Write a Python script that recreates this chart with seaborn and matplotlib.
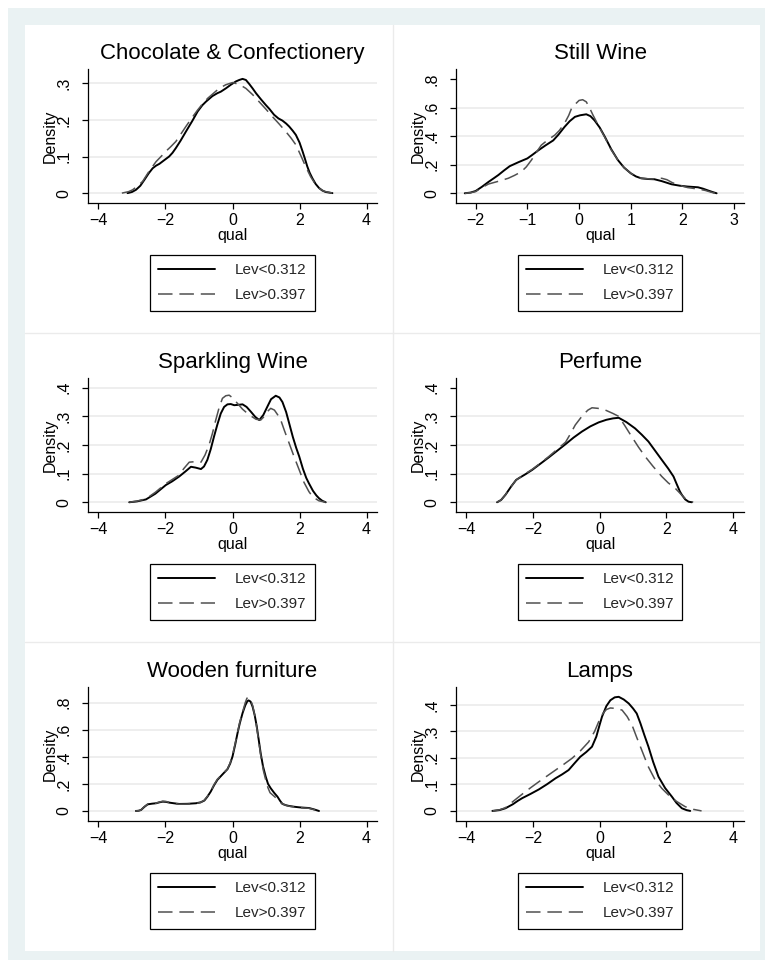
import numpy as np
import pandas as pd
import seaborn as sns
import matplotlib.pyplot as plt
from matplotlib.patches import Rectangle
from matplotlib.lines import Line2D

W, H = 765, 960

titles = ["Chocolate & Confectionery", "Still Wine", "Sparkling Wine",
          "Perfume", "Wooden furniture", "Lamps"]
legend_labels = ["Lev<0.312", "Lev>0.397"]

# density curves (x = qual, y = Density)
choc_lo_x = [-3.13, -3.0, -2.88, -2.75, -2.63, -2.5, -2.38, -2.28, -2.18, -2.05, -1.89, -1.79, -1.69, -1.55,
             -1.39, -1.2, -1.04, -0.9, -0.79, -0.6, -0.45, -0.35, -0.2, -0.05, 0.1, 0.2, 0.3, 0.4, 0.5,
             0.6, 0.7, 0.85, 0.99, 1.1, 1.24, 1.37, 1.49, 1.6, 1.69, 1.8, 1.89, 2.0, 2.09, 2.16, 2.23,
             2.3, 2.38, 2.48, 2.58, 2.68, 2.78, 2.98]
choc_lo_y = [0, 0.003, 0.009, 0.02, 0.036, 0.054, 0.068, 0.075, 0.08, 0.089, 0.1, 0.11, 0.123, 0.143,
             0.168, 0.197, 0.223, 0.24, 0.25, 0.265, 0.273, 0.277, 0.286, 0.296, 0.305, 0.309, 0.312, 0.309, 0.298,
             0.286, 0.273, 0.256, 0.241, 0.23, 0.214, 0.204, 0.198, 0.19, 0.182, 0.17, 0.159, 0.138, 0.114, 0.094, 0.073,
             0.056, 0.041, 0.025, 0.014, 0.007, 0.003, 0]
choc_hi_x = [-3.3, -3.1, -2.98, -2.85, -2.68, -2.5, -2.28, -2.1, -1.99, -1.85, -1.69, -1.55, -1.39, -1.2,
             -1.04, -0.9, -0.74, -0.55, -0.4, -0.2, 0.0, 0.2, 0.4, 0.6, 0.79, 1.0, 1.19, 1.4, 1.59,
             1.75, 1.89, 2.05, 2.18, 2.33, 2.48, 2.6, 2.73, 2.98]
choc_hi_y = [0, 0.004, 0.009, 0.018, 0.032, 0.058, 0.086, 0.103, 0.114, 0.126, 0.141, 0.16, 0.182, 0.207,
             0.227, 0.243, 0.259, 0.274, 0.286, 0.296, 0.302, 0.297, 0.286, 0.269, 0.25, 0.229, 0.209, 0.188, 0.168,
             0.15, 0.132, 0.1, 0.073, 0.045, 0.023, 0.012, 0.005, 0]

still_lo_x = [-2.21, -2.1, -2.0, -1.88, -1.75, -1.65, -1.56, -1.45, -1.34, -1.17, -1.0, -0.9, -0.79, -0.65,
              -0.5, -0.4, -0.28, -0.18, -0.08, 0.02, 0.14, 0.22, 0.3, 0.4, 0.5, 0.62, 0.75, 0.87, 1.0,
              1.1, 1.2, 1.33, 1.46, 1.6, 1.79, 1.95, 2.1, 2.3, 2.4, 2.5, 2.58, 2.66]
still_lo_y = [0, 0.005, 0.016, 0.045, 0.08, 0.105, 0.128, 0.16, 0.19, 0.218, 0.244, 0.27, 0.3, 0.335,
              0.37, 0.41, 0.465, 0.505, 0.535, 0.546, 0.553, 0.54, 0.51, 0.46, 0.395, 0.31, 0.233, 0.18, 0.14,
              0.118, 0.105, 0.1, 0.098, 0.085, 0.063, 0.053, 0.047, 0.042, 0.032, 0.019, 0.009, 0]
still_hi_x = [-2.21, -2.1, -2.0, -1.88, -1.75, -1.55, -1.37, -1.25, -1.12, -1.02, -0.92, -0.82, -0.73, -0.6,
              -0.47, -0.38, -0.28, -0.2, -0.15, -0.07, 0.0, 0.07, 0.14, 0.2, 0.27, 0.38, 0.5, 0.62, 0.75,
              0.87, 1.0, 1.1, 1.2, 1.4, 1.6, 1.7, 1.8, 1.95, 2.1, 2.3, 2.44, 2.55, 2.63]
still_hi_y = [0, 0.004, 0.012, 0.04, 0.065, 0.085, 0.105, 0.125, 0.15, 0.185, 0.233, 0.29, 0.337, 0.375,
              0.407, 0.44, 0.49, 0.545, 0.59, 0.625, 0.65, 0.655, 0.64, 0.6, 0.547, 0.47, 0.39, 0.305, 0.233,
              0.18, 0.14, 0.118, 0.105, 0.1, 0.105, 0.095, 0.075, 0.055, 0.04, 0.03, 0.02, 0.008, 0]

spark_lo_x = [-3.08, -2.85, -2.58, -2.3, -1.99, -1.8, -1.59, -1.4, -1.24, -1.1, -0.94, -0.85, -0.75, -0.65,
              -0.55, -0.45, -0.35, -0.25, -0.15, -0.05, 0.05, 0.15, 0.3, 0.42, 0.55, 0.68, 0.8, 0.92, 1.04,
              1.15, 1.29, 1.4, 1.49, 1.6, 1.69, 1.8, 1.9, 1.99, 2.1, 2.2, 2.28, 2.4, 2.5, 2.58, 2.68, 2.78]
spark_lo_y = [0, 0.003, 0.01, 0.03, 0.06, 0.073, 0.09, 0.108, 0.124, 0.121, 0.116, 0.125, 0.148, 0.185,
              0.23, 0.272, 0.31, 0.333, 0.342, 0.343, 0.339, 0.34, 0.342, 0.333, 0.316, 0.298, 0.287, 0.305, 0.334,
              0.36, 0.372, 0.366, 0.35, 0.315, 0.276, 0.228, 0.19, 0.16, 0.117, 0.085, 0.066, 0.04, 0.024, 0.014, 0.005, 0]
spark_hi_x = [-3.08, -2.85, -2.58, -2.3, -1.99, -1.79, -1.59, -1.45, -1.29, -1.1, -0.94, -0.82, -0.7, -0.6,
              -0.5, -0.4, -0.3, -0.2, -0.1, 0.0, 0.15, 0.3, 0.5, 0.7, 0.84, 0.95, 1.05, 1.14, 1.25,
              1.35, 1.44, 1.55, 1.69, 1.85, 1.99, 2.13, 2.28, 2.4, 2.58, 2.78]
spark_hi_y = [0, 0.004, 0.012, 0.035, 0.065, 0.08, 0.095, 0.118, 0.14, 0.142, 0.14, 0.165, 0.2, 0.24,
              0.287, 0.33, 0.363, 0.372, 0.374, 0.365, 0.345, 0.325, 0.305, 0.29, 0.287, 0.3, 0.318, 0.328, 0.322,
              0.305, 0.287, 0.25, 0.206, 0.155, 0.113, 0.07, 0.037, 0.018, 0.005, 0]

perf_lo_x = [-3.07, -2.95, -2.82, -2.65, -2.5, -2.42, -2.22, -2.02, -1.77, -1.52, -1.27, -1.02, -0.78, -0.53,
             -0.28, -0.03, 0.2, 0.4, 0.57, 0.8, 1.06, 1.26, 1.46, 1.66, 1.86, 2.05, 2.21, 2.3, 2.4,
             2.46, 2.56, 2.66, 2.76]
perf_lo_y = [0, 0.008, 0.026, 0.055, 0.078, 0.084, 0.098, 0.113, 0.135, 0.157, 0.18, 0.203, 0.226, 0.247,
             0.265, 0.279, 0.288, 0.293, 0.295, 0.28, 0.258, 0.236, 0.212, 0.18, 0.148, 0.118, 0.09, 0.065, 0.038,
             0.026, 0.01, 0.002, 0]
perf_hi_x = [-3.07, -2.95, -2.82, -2.65, -2.5, -2.42, -2.22, -2.02, -1.77, -1.52, -1.27, -1.02, -0.88, -0.73,
             -0.5, -0.35, -0.23, -0.05, 0.17, 0.4, 0.57, 0.75, 0.96, 1.16, 1.36, 1.6, 1.86, 2.05, 2.26,
             2.4, 2.55, 2.68, 2.8]
perf_hi_y = [0, 0.008, 0.026, 0.055, 0.078, 0.084, 0.1, 0.115, 0.137, 0.16, 0.185, 0.21, 0.238, 0.27,
             0.305, 0.322, 0.33, 0.328, 0.322, 0.31, 0.3, 0.268, 0.229, 0.193, 0.16, 0.125, 0.09, 0.068, 0.049,
             0.032, 0.014, 0.005, 0]

wood_lo_x = [-2.88, -2.8, -2.73, -2.63, -2.53, -2.4, -2.28, -2.18, -2.08, -1.98, -1.89, -1.75, -1.59, -1.35,
             -1.09, -0.95, -0.84, -0.75, -0.65, -0.55, -0.45, -0.3, -0.15, -0.07, 0.0, 0.08, 0.15, 0.22, 0.3,
             0.38, 0.44, 0.48, 0.54, 0.6, 0.66, 0.72, 0.78, 0.84, 0.91, 0.99, 1.06, 1.14, 1.24, 1.34, 1.42,
             1.49, 1.6, 1.69, 1.85, 1.99, 2.15, 2.28, 2.43, 2.58]
wood_lo_y = [0, 0.002, 0.007, 0.03, 0.049, 0.054, 0.057, 0.064, 0.069, 0.067, 0.062, 0.057, 0.052, 0.053,
             0.057, 0.064, 0.077, 0.105, 0.143, 0.19, 0.23, 0.27, 0.309, 0.35, 0.402, 0.49, 0.575, 0.65, 0.723,
             0.78, 0.81, 0.817, 0.808, 0.77, 0.71, 0.63, 0.53, 0.427, 0.33, 0.254, 0.2, 0.168, 0.135, 0.106, 0.075,
             0.052, 0.042, 0.037, 0.031, 0.027, 0.024, 0.022, 0.012, 0]
wood_hi_x = [-2.88, -2.8, -2.73, -2.63, -2.53, -2.4, -2.28, -2.18, -2.08, -1.98, -1.89, -1.75, -1.59, -1.35,
             -1.09, -0.95, -0.84, -0.75, -0.65, -0.55, -0.45, -0.3, -0.15, -0.07, 0.0, 0.08, 0.15, 0.22, 0.3,
             0.38, 0.43, 0.47, 0.53, 0.6, 0.66, 0.72, 0.78, 0.84, 0.92, 1.0, 1.06, 1.12, 1.19, 1.26, 1.34,
             1.42, 1.49, 1.6, 1.69, 1.85, 1.99, 2.15, 2.28, 2.43, 2.58]
wood_hi_y = [0, 0.002, 0.007, 0.032, 0.05, 0.056, 0.058, 0.066, 0.072, 0.07, 0.064, 0.056, 0.05, 0.051,
             0.055, 0.063, 0.08, 0.108, 0.145, 0.195, 0.235, 0.272, 0.31, 0.355, 0.41, 0.5, 0.58, 0.66, 0.73,
             0.8, 0.833, 0.84, 0.825, 0.78, 0.71, 0.62, 0.52, 0.415, 0.3, 0.22, 0.17, 0.135, 0.12, 0.105, 0.086,
             0.065, 0.052, 0.042, 0.035, 0.03, 0.025, 0.022, 0.02, 0.01, 0]

lamp_lo_x = [-3.21, -3.0, -2.82, -2.6, -2.45, -2.32, -2.07, -1.82, -1.57, -1.32, -1.12, -0.93, -0.75, -0.58,
             -0.4, -0.23, -0.1, 0.0, 0.07, 0.2, 0.32, 0.45, 0.57, 0.72, 0.87, 1.0, 1.11, 1.22, 1.34,
             1.46, 1.6, 1.76, 1.96, 2.16, 2.3, 2.46, 2.6, 2.71]
lamp_lo_y = [0, 0.003, 0.01, 0.025, 0.038, 0.048, 0.064, 0.081, 0.101, 0.123, 0.138, 0.154, 0.18, 0.204,
             0.222, 0.242, 0.28, 0.325, 0.355, 0.395, 0.417, 0.428, 0.43, 0.42, 0.405, 0.386, 0.367, 0.33, 0.285,
             0.242, 0.185, 0.129, 0.086, 0.054, 0.03, 0.01, 0.003, 0]
lamp_hi_x = [-3.2, -3.0, -2.82, -2.6, -2.32, -2.07, -1.82, -1.57, -1.32, -1.07, -0.83, -0.58, -0.33, -0.15,
             0.0, 0.1, 0.2, 0.32, 0.5, 0.67, 0.82, 0.97, 1.1, 1.26, 1.45, 1.66, 1.86, 2.06, 2.3,
             2.56, 2.8, 3.05]
lamp_hi_y = [0, 0.004, 0.012, 0.035, 0.063, 0.087, 0.11, 0.132, 0.154, 0.176, 0.198, 0.226, 0.26, 0.3,
             0.345, 0.368, 0.382, 0.388, 0.386, 0.38, 0.356, 0.323, 0.28, 0.229, 0.168, 0.117, 0.085, 0.06, 0.036,
             0.016, 0.006, 0]

curves = [
    (choc_lo_x, choc_lo_y, choc_hi_x, choc_hi_y),
    (still_lo_x, still_lo_y, still_hi_x, still_hi_y),
    (spark_lo_x, spark_lo_y, spark_hi_x, spark_hi_y),
    (perf_lo_x, perf_lo_y, perf_hi_x, perf_hi_y),
    (wood_lo_x, wood_lo_y, wood_hi_x, wood_hi_y),
    (lamp_lo_x, lamp_lo_y, lamp_hi_x, lamp_hi_y),
]

x_ticks = [[-4, -2, 0, 2, 4], [-2, -1, 0, 1, 2, 3], [-4, -2, 0, 2, 4],
           [-4, -2, 0, 2, 4], [-4, -2, 0, 2, 4], [-4, -2, 0, 2, 4]]
y_ticks = [[0, .1, .2, .3], [0, .2, .4, .6, .8], [0, .1, .2, .3, .4],
           [0, .1, .2, .3, .4], [0, .2, .4, .6, .8], [0, .1, .2, .3, .4]]
x_lims = [(-4.31, 4.31), (-2.38, 3.19), (-4.31, 4.31), (-4.3, 4.32), (-4.31, 4.31), (-4.3, 4.32)]
y_lims = [(-0.027, 0.339), (-0.068, 0.87), (-0.034, 0.434), (-0.034, 0.434), (-0.074, 0.916), (-0.038, 0.467)]
top_grid = [True, False, True, False, True, True]

sns.set_theme(style="white")
plt.rcParams['font.family'] = ['Liberation Sans', 'DejaVu Sans']

fig = plt.figure(figsize=(W / 100, H / 100), dpi=100)
fig.patch.set_facecolor('white')

# stata-like graph region
fig.patches.append(Rectangle((8 / W, 0), 1 - 8 / W, 1 - 8 / H, transform=fig.transFigure,
                             facecolor='#EAF2F3', edgecolor='none', zorder=-3))
fig.patches.append(Rectangle((25 / W, 1 - 951 / H), 735 / W, 926 / H, transform=fig.transFigure,
                             facecolor='white', edgecolor='none', zorder=-2))
sep = '#EBEBEB'
fig.lines.append(Line2D([393 / W, 393 / W], [1 - 25 / H, 1 - 951 / H], transform=fig.transFigure,
                        color=sep, lw=1, zorder=-1))
for yy in [333, 642]:
    fig.lines.append(Line2D([25 / W, 760 / W], [1 - yy / H, 1 - yy / H], transform=fig.transFigure,
                            color=sep, lw=1, zorder=-1))


def ylab(v):
    return '0' if v == 0 else ('%g' % v).lstrip('0')


col_x = [(88, 377), (456, 744)]
row_y = [69, 378, 687]
leg_top = [255, 564, 873]

for i, t in enumerate(titles):
    col, row = i % 2, i // 2
    x0, x1 = col_x[col]
    y0 = row_y[row]
    y1 = y0 + 134
    ax = fig.add_axes([x0 / W, 1 - y1 / H, (x1 - x0) / W, (y1 - y0) / H])
    ax.set_zorder(2)
    ax.set_facecolor('white')

    lx, ly, hx, hy = curves[i]
    sns.lineplot(x=lx, y=ly, ax=ax, color='black', lw=1.4, sort=False, estimator=None,
                 label=legend_labels[0], zorder=3, solid_joinstyle='round')
    sns.lineplot(x=hx, y=hy, ax=ax, color='#505050', lw=1.1, sort=False, estimator=None,
                 label=legend_labels[1], linestyle=(0, (9.5, 4.5)), zorder=3)

    ax.set_xlim(*x_lims[i])
    ax.set_ylim(*y_lims[i])
    ax.set_xticks(x_ticks[i])
    ax.set_xticklabels([str(v).replace('-', '\u2212') for v in x_ticks[i]])
    ax.set_yticks(y_ticks[i])
    ax.set_yticklabels([ylab(v) for v in y_ticks[i]])

    ax.grid(axis='y', color='#EAEAEA', lw=1.1)
    ax.grid(axis='x', visible=False)
    ax.set_axisbelow(True)
    if not top_grid[i]:
        ax.yaxis.get_gridlines()[-1].set_visible(False)

    sns.despine(ax=ax)
    for s in ['left', 'bottom']:
        ax.spines[s].set_color('black')
        ax.spines[s].set_linewidth(0.9)

    ax.tick_params(bottom=True, left=True, direction='out', length=4, width=0.9,
                   color='black', labelsize=11.5, labelcolor='black')
    ax.tick_params(axis='y', labelrotation=90, pad=8)
    ax.tick_params(axis='x', pad=3.5)
    for lab in ax.get_yticklabels():
        lab.set_va('center')

    ax.set_xlabel('qual', fontsize=11.5, color='black')
    ax.set_ylabel('Density', fontsize=11.5, color='black')
    ax.xaxis.set_label_coords(0.5, -0.187)
    ax.yaxis.set_label_coords(-0.104, 0.5)
    ax.set_title(t, fontsize=16, pad=7, color='black')

    cx = (x0 + x1) / 2
    leg = ax.legend(loc='upper center', bbox_to_anchor=(cx / W, 1 - leg_top[row] / H),
                    bbox_transform=fig.transFigure, frameon=True, fancybox=False,
                    edgecolor='black', framealpha=1, fontsize=11, handlelength=3.7,
                    handletextpad=1.3, borderpad=0.55, labelspacing=0.72, borderaxespad=0)
    leg.get_frame().set_linewidth(0.9)

fig.savefig('out.png', dpi=100, facecolor=fig.get_facecolor())
